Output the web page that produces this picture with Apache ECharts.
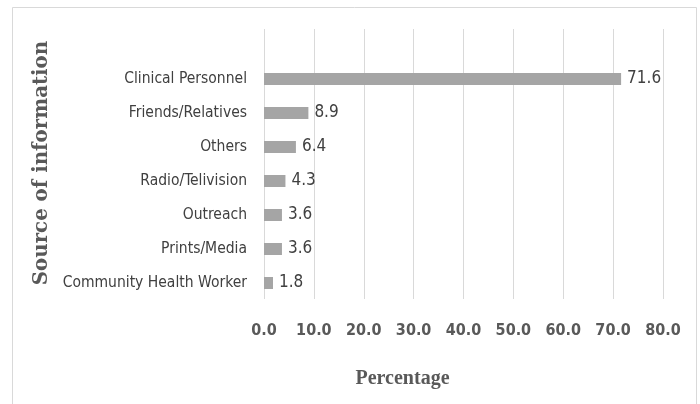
<!DOCTYPE html>
<html>
<head>
<meta charset="utf-8">
<script src="https://cdn.jsdelivr.net/npm/echarts@6/dist/echarts.min.js"></script>
<style>
html, body { margin: 0; padding: 0; background: #fff; }
#chart { width: 700px; height: 404px; }
</style>
</head>
<body>
<div id="chart"></div>
<script>
// data
const categories = ['Community Health Worker', 'Prints/Media', 'Outreach', 'Radio/Telivision', 'Others', 'Friends/Relatives', 'Clinical Personnel'];
const percentages = [1.8, 3.6, 3.6, 4.3, 6.4, 8.9, 71.6];
const xTicks = [0, 10, 20, 30, 40, 50, 60, 70, 80];

let myChart = echarts.init(document.getElementById('chart'));

const narrow = '"DejaVu Sans Condensed", "Liberation Sans Narrow", sans-serif';
const serif = '"Liberation Serif", serif';

myChart.setOption({
    backgroundColor: '#fff',
    animation: false,
    graphic: [{
        type: 'rect',
        shape: { x: 12.5, y: 7.5, width: 684, height: 410 },
        style: { fill: 'none', stroke: '#d9d9d9', lineWidth: 1 },
        silent: true
    }],
    grid: [
        // gridlines + tick labels
        { left: 264, width: 399, top: 29, height: 270 },
        // bars
        { left: 264, width: 399, top: 62, height: 238 }
    ],
    xAxis: [
        {
            gridIndex: 0,
            type: 'value',
            min: xTicks[0],
            max: xTicks[xTicks.length - 1],
            interval: 10,
            axisLine: { show: false },
            axisTick: { show: false },
            splitLine: { show: true, lineStyle: { color: '#d9d9d9', width: 1 } },
            axisLabel: {
                margin: 24,
                color: '#595959',
                fontFamily: narrow,
                fontSize: 16,
                fontWeight: 'bold',
                formatter: v => v.toFixed(1)
            },
            name: 'Percentage',
            nameLocation: 'middle',
            nameGap: 70,
            nameTextStyle: {
                color: '#595959', fontFamily: serif, fontWeight: 'bold', fontSize: 20,
                padding: [0, 122, 0, 0]
            }
        },
        {
            gridIndex: 1,
            type: 'value',
            min: xTicks[0],
            max: xTicks[xTicks.length - 1],
            show: false
        }
    ],
    yAxis: [
        {
            gridIndex: 0,
            type: 'value',
            show: false
        },
        {
            gridIndex: 1,
            type: 'category',
            data: categories,
            axisLine: { show: false },
            axisTick: { show: false },
            axisLabel: {
                margin: 17,
                color: '#404040',
                fontFamily: narrow,
                fontSize: 15.5
            },
            name: 'Source of information',
            nameLocation: 'middle',
            nameGap: 196,
            nameRotate: 90,
            nameTextStyle: {
                color: '#595959', fontFamily: '"DejaVu Serif", serif', fontWeight: 'bold', fontSize: 19.8,
                padding: [0, 0, 0, 36]
            }
        }
    ],
    series: [{
        type: 'bar',
        xAxisIndex: 1,
        yAxisIndex: 1,
        data: percentages,
        barWidth: 12,
        itemStyle: { color: '#a5a5a5' },
        label: {
            show: true,
            position: 'right',
            distance: 6,
            color: '#404040',
            fontFamily: narrow,
            fontSize: 17,
            formatter: p => p.value.toFixed(1)
        }
    }]
});
</script>
</body>
</html>
